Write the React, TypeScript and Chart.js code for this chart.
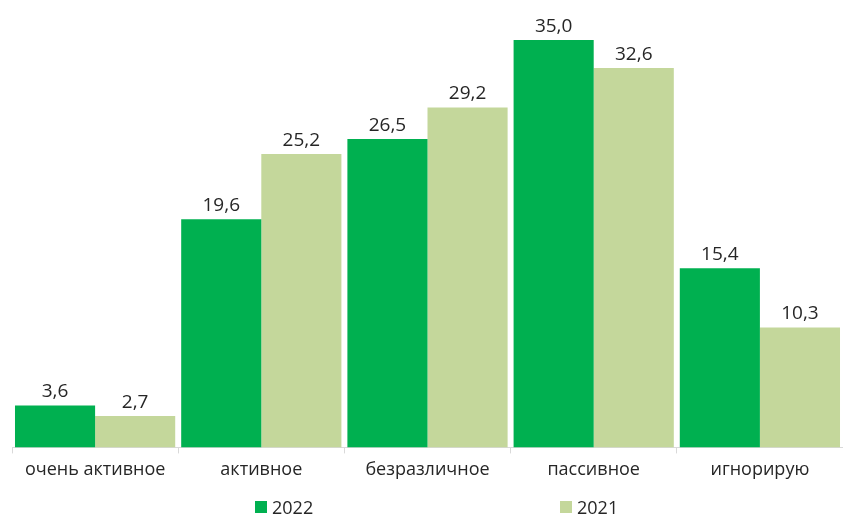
import React, { useEffect, useRef } from "react";
import { Chart, registerables } from "chart.js";

Chart.register(...registerables);

const categories = ["очень активное", "активное", "безразличное", "пассивное", "игнорирую"];
const values2022 = [3.6, 19.6, 26.5, 35.0, 15.4];
const values2021 = [2.7, 25.2, 29.2, 32.6, 10.3];
const seriesNames = ["2022", "2021"];
const colors = ["#00B050", "#C4D79B"];
const FONT = "'Open Sans', Lato, sans-serif";

const labelPlugin = {
  id: "valueLabels",
  afterDatasetsDraw(chart: any) {
    const ctx = chart.ctx;
    ctx.save();
    ctx.font = `19px ${FONT}`;
    ctx.fillStyle = "#262626";
    ctx.textAlign = "center";
    ctx.textBaseline = "bottom";
    chart.data.datasets.forEach((ds: any, i: number) => {
      const meta = chart.getDatasetMeta(i);
      meta.data.forEach((bar: any, j: number) => {
        const v = ds.data[j] as number;
        ctx.fillText(v.toFixed(1).replace(".", ","), bar.x, bar.y - 4);
      });
    });
    ctx.restore();
  },
};

export default function App() {
  const ref = useRef<HTMLCanvasElement>(null);
  useEffect(() => {
    if (!ref.current) return;
    const chart = new Chart(ref.current, {
      type: "bar",
      data: {
        labels: categories,
        datasets: [
          { label: seriesNames[0], data: values2022, backgroundColor: colors[0], barPercentage: 1, categoryPercentage: 0.964 },
          { label: seriesNames[1], data: values2021, backgroundColor: colors[1], barPercentage: 1, categoryPercentage: 0.964 },
        ],
      },
      options: {
        animation: false,
        responsive: false,
        maintainAspectRatio: false,
        layout: { padding: { top: 40, left: 12, right: 0, bottom: 30 } },
        plugins: { legend: { display: false }, tooltip: { enabled: false } },
        scales: {
          x: {
            grid: { display: true, drawOnChartArea: false, tickLength: 6, color: "#d9d9d9", offset: true },
            border: { display: true, color: "#d9d9d9" },
            ticks: { color: "#262626", font: { family: FONT, size: 18 }, padding: 6, maxRotation: 0 },
          },
          y: { display: false, min: 0, max: 35 },
        },
      },
      plugins: [labelPlugin],
    });
    return () => chart.destroy();
  }, []);

  const legendItem = (left: number, color: string, text: string) => (
    <div style={{ position: "absolute", left, top: 495, display: "flex", alignItems: "center", fontFamily: FONT, fontSize: 18, color: "#262626" }}>
      <div style={{ width: 12, height: 12, background: color, marginRight: 5 }} />
      <span>{text}</span>
    </div>
  );

  return (
    <div style={{ position: "fixed", left: 0, top: 0, width: 843, height: 517, background: "#fff" }}>
      <canvas ref={ref} width={843} height={517} style={{ display: "block" }} />
      {legendItem(255, colors[0], seriesNames[0])}
      {legendItem(560, colors[1], seriesNames[1])}
    </div>
  );
}
